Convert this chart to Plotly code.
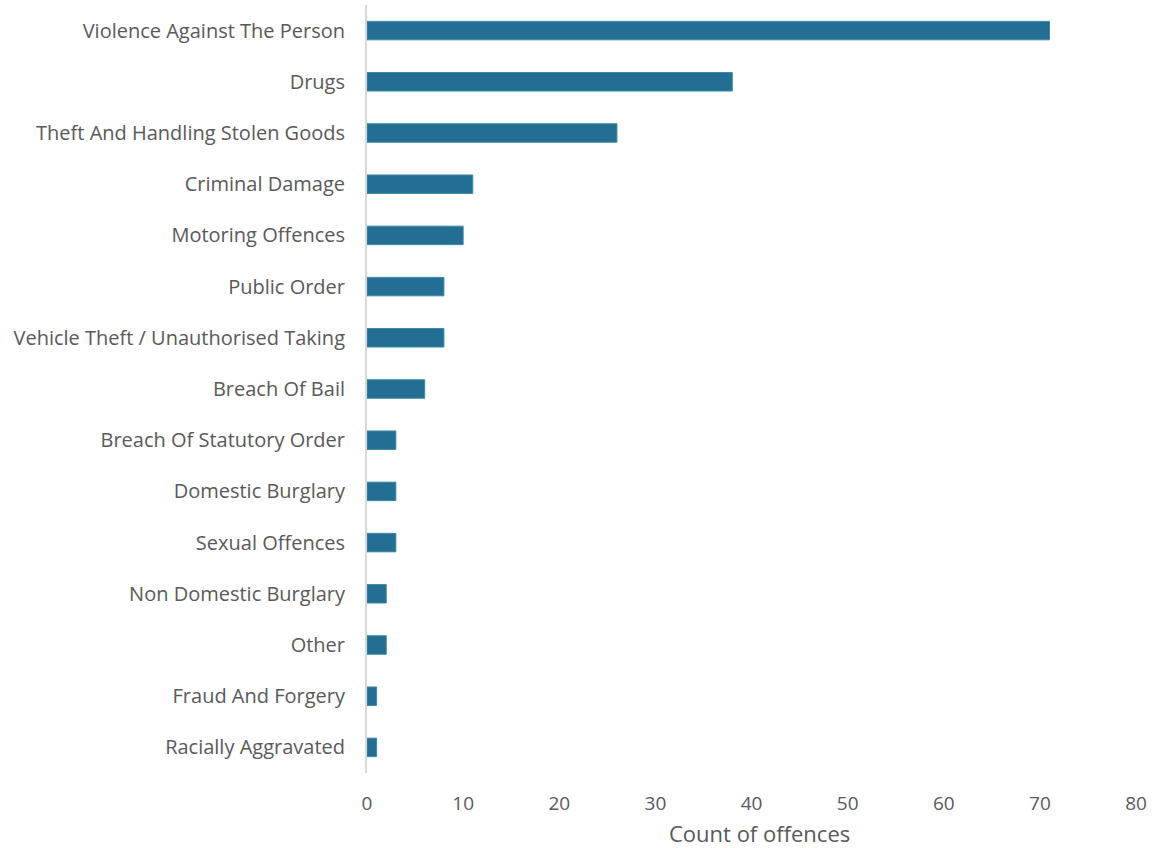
import plotly.graph_objects as go

categories = [
    "Violence Against The Person",
    "Drugs",
    "Theft And Handling Stolen Goods",
    "Criminal Damage",
    "Motoring Offences",
    "Public Order",
    "Vehicle Theft / Unauthorised Taking",
    "Breach Of Bail",
    "Breach Of Statutory Order",
    "Domestic Burglary",
    "Sexual Offences",
    "Non Domestic Burglary",
    "Other",
    "Fraud And Forgery",
    "Racially Aggravated",
]
counts = [71, 38, 26, 11, 10, 8, 8, 6, 3, 3, 3, 2, 2, 1, 1]
x_ticks = [0, 10, 20, 30, 40, 50, 60, 70, 80]

fig = go.Figure(go.Bar(
    x=counts, y=categories, orientation="h",
    marker=dict(color="#236f93", line=dict(color="#3a86aa", width=1)),
))

fig.update_layout(
    width=1157, height=848,
    margin=dict(l=367, r=21, t=5, b=75, autoexpand=False),
    plot_bgcolor="white", paper_bgcolor="white",
    bargap=0.64,
    font=dict(family="Open Sans", size=20, color="#595959"),
    showlegend=False,
)
fig.update_yaxes(autorange="reversed", showgrid=False, showline=True,
                 linecolor="#d9d9d9", linewidth=2, ticks="", ticklabelstandoff=16,
                 automargin=False)
fig.update_xaxes(range=[0, 80], tickvals=x_ticks, showgrid=False, zeroline=False,
                 showline=False, ticks="", ticklabelstandoff=17, automargin=False,
                 tickfont=dict(size=19))

# axis title sits a little right of centre in the original
fig.add_annotation(text="Count of offences", xref="paper", yref="paper",
                   x=0.5104, y=-0.078, xanchor="center", yanchor="middle",
                   showarrow=False, font=dict(size=22))

# drop the page's default body margin so the figure sits at the top-left corner
fig.write_html("out.html", config={"displayModeBar": False},
               post_script="document.body.style.margin='0';")
